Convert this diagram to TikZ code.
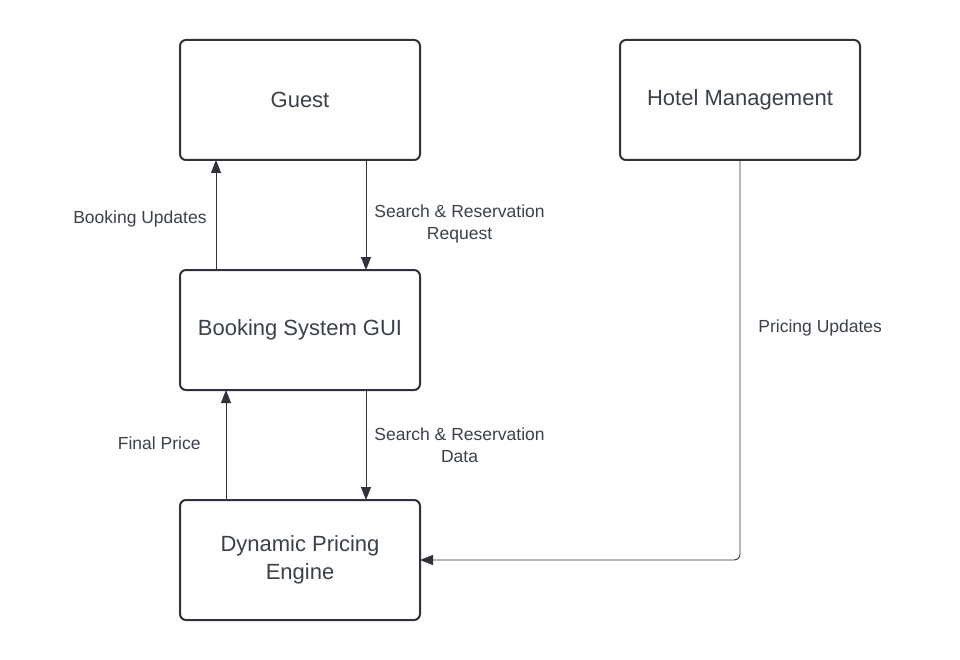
\documentclass[tikz,border=0pt]{standalone}
\usepackage{fontspec}
\setmainfont{Liberation Sans}
\usetikzlibrary{positioning, calc, arrows.meta}
\definecolor{inkgray}{HTML}{2E333B}
\definecolor{textgray}{HTML}{3A414A}
\tikzstyle{Box} = [
draw=inkgray, line width=2pt, rounded corners=6pt, outer sep=0pt,
minimum width=240pt, minimum height=120pt,
align=center, text=textgray, font=\fontsize{22}{28}\selectfont]
\tikzstyle{Arrow} = [
draw=inkgray, line width=0.9pt,
-{Triangle[length=13pt, width=10pt]}]
\tikzstyle{Lbl} = [
text=textgray, align=center, inner sep=8pt,
font=\fontsize{17.5}{22}\selectfont]

\begin{document}
\begin{tikzpicture}[x=1pt, y=-1pt]
    \useasboundingbox (0,0) rectangle (960,660);
    \node [Box] (guest) at (300,100) {Guest};
    \node [Box, right =200pt of guest] (hotel) {Hotel Management};
    \node [Box, below =110pt of guest] (gui) {Booking System GUI};
    \node [Box, below =110pt of gui] (engine) {Dynamic Pricing\\Engine};
    \draw[Arrow] ([xshift=66pt]guest.south) -- node[Lbl, right, pos=0.58] (req) {Search \& Reservation\\Request} ([xshift=66pt]gui.north);
    \draw[Arrow] ([xshift=-84pt]gui.north) -- node[Lbl, left, pos=0.46, inner sep=9pt] (upd) {Booking Updates} ([xshift=-84pt]guest.south);
    \draw[Arrow] ([xshift=66pt]gui.south) -- node[Lbl, right, pos=0.5] (data) {Search \& Reservation\\Data} ([xshift=66pt]engine.north);
    \draw[Arrow] ([xshift=-74pt]engine.north) -- node[Lbl, left, pos=0.52, inner sep=25pt] (price) {Final Price} ([xshift=-74pt]gui.south);
    \draw[Arrow, rounded corners=6pt] (hotel.south) |- node[Lbl, right, pos=0.21, inner sep=18pt] (pricing) {Pricing Updates} (engine.east);
\end{tikzpicture}
\end{document}
